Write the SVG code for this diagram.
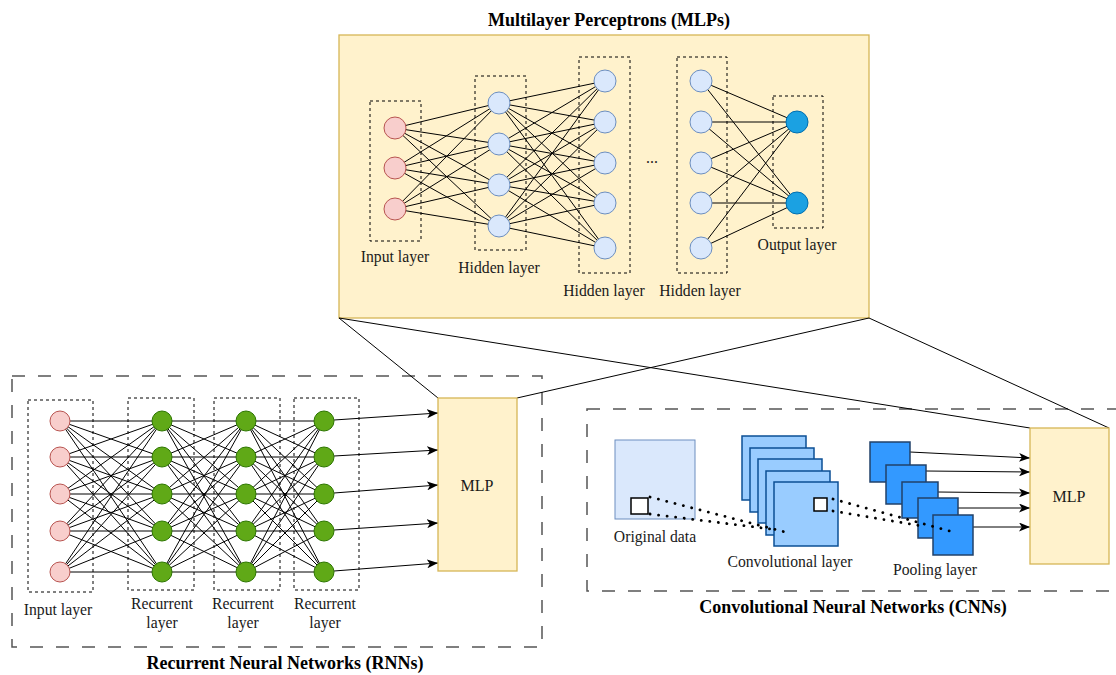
<svg xmlns="http://www.w3.org/2000/svg" width="1116" height="675" viewBox="0 0 1116 675" font-family="Liberation Serif, serif">
<style>
text{font-family:"Liberation Serif",serif;fill:#1a1a1a}
.lbl{font-size:15.7px;text-anchor:middle}
.ttl{font-size:18px;font-weight:bold;text-anchor:middle;fill:#000}
.mlpt{font-size:16px;text-anchor:middle}
.panel{fill:#fff2cc;stroke:#d6b656;stroke-width:1.3}
.group{fill:none;stroke:#555;stroke-width:1.5;stroke-dasharray:13 13}
.box{fill:none;stroke:#000;stroke-width:1;stroke-dasharray:3 3}
.in{fill:#f8cecc;stroke:#b85450;stroke-width:1}
.hid{fill:#dae8fc;stroke:#6c8ebf;stroke-width:1}
.out{fill:#1ba1e2;stroke:#006eaf;stroke-width:1}
.rec{fill:#60a917;stroke:#2d7600;stroke-width:1}
.edge{fill:none;stroke:#000;stroke-width:1}
.arrow{fill:none;stroke:#000;stroke-width:1;marker-end:url(#arr)}
.dot{fill:none;stroke:#000;stroke-width:2.8;stroke-dasharray:0.1 8.5;stroke-linecap:round}
.conv{fill:#99ccff;stroke:#0b4f95;stroke-width:1.5}
.pool{fill:#3399ff;stroke:#22426a;stroke-width:1.5}
</style>
<defs>
<marker id="arr" markerWidth="11" markerHeight="9" refX="11" refY="4.5" orient="auto" markerUnits="userSpaceOnUse">
<path d="M0,0 L11,4.5 L0,9 L2.8,4.5 z" fill="#000"/>
</marker>
</defs>

<g id="titles">
<text class="ttl" x="609" y="26">Multilayer Perceptrons (MLPs)</text>
<text class="ttl" x="285" y="669">Recurrent Neural Networks (RNNs)</text>
<text class="ttl" x="853" y="613">Convolutional Neural Networks (CNNs)</text>
</g>

<g id="mlp-panel">
<rect class="panel" x="339" y="35" width="530" height="283"/>
</g>
<g id="rnn-panel">
<rect class="group" x="12" y="376" width="530" height="271"/>
</g>
<g id="cnn-panel">
<rect class="group" x="587" y="409" width="560" height="182"/>
</g>

<g id="connectors">
<path class="edge" d="M339 318L438 398M339 318L1030 428M869 318L517 398M869 318L1109 428"/>
<path class="edge" d="M395 128L499 103M395 128L499 144M395 128L499 185M395 128L499 226M395 168L499 103M395 168L499 144M395 168L499 185M395 168L499 226M395 209L499 103M395 209L499 144M395 209L499 185M395 209L499 226"/>
<path class="edge" d="M499 103L605 81M499 103L605 122M499 103L605 163M499 103L605 203M499 103L605 248M499 144L605 81M499 144L605 122M499 144L605 163M499 144L605 203M499 144L605 248M499 185L605 81M499 185L605 122M499 185L605 163M499 185L605 203M499 185L605 248M499 226L605 81M499 226L605 122M499 226L605 163M499 226L605 203M499 226L605 248"/>
<path class="edge" d="M701 81L797 122M701 81L797 203M701 122L797 122M701 122L797 203M701 163L797 122M701 163L797 203M701 203L797 122M701 203L797 203M701 248L797 122M701 248L797 203"/>
<path class="edge" d="M60 421L162 421M60 421L162 457M60 421L162 494M60 421L162 531M60 421L162 572M60 457L162 421M60 457L162 457M60 457L162 494M60 457L162 531M60 457L162 572M60 494L162 421M60 494L162 457M60 494L162 494M60 494L162 531M60 494L162 572M60 531L162 421M60 531L162 457M60 531L162 494M60 531L162 531M60 531L162 572M60 572L162 421M60 572L162 457M60 572L162 494M60 572L162 531M60 572L162 572"/>
<path class="edge" d="M162 421L246 421M162 421L246 457M162 421L246 494M162 421L246 531M162 421L246 572M162 457L246 421M162 457L246 457M162 457L246 494M162 457L246 531M162 457L246 572M162 494L246 421M162 494L246 457M162 494L246 494M162 494L246 531M162 494L246 572M162 531L246 421M162 531L246 457M162 531L246 494M162 531L246 531M162 531L246 572M162 572L246 421M162 572L246 457M162 572L246 494M162 572L246 531M162 572L246 572"/>
<path class="edge" d="M246 421L324 421M246 421L324 457M246 421L324 494M246 421L324 531M246 421L324 572M246 457L324 421M246 457L324 457M246 457L324 494M246 457L324 531M246 457L324 572M246 494L324 421M246 494L324 457M246 494L324 494M246 494L324 531M246 494L324 572M246 531L324 421M246 531L324 457M246 531L324 494M246 531L324 531M246 531L324 572M246 572L324 421M246 572L324 457M246 572L324 494M246 572L324 531M246 572L324 572"/>
<path class="arrow" d="M334 420L438 413"/>
<path class="arrow" d="M334 456L438 450"/>
<path class="arrow" d="M334 493L438 485"/>
<path class="arrow" d="M334 530L438 523"/>
<path class="arrow" d="M334 571L438 563"/>
<path class="arrow" d="M910 452L1030 458"/>
<path class="arrow" d="M926 471L1030 472"/>
<path class="arrow" d="M938 492L1030 493"/>
<path class="arrow" d="M958 508L1030 508"/>
<path class="arrow" d="M973 527L1030 527"/>
</g>

<g id="mlp-input-layer">
<rect class="box" x="370" y="101" width="51" height="140"/>
<circle class="in" cx="395" cy="128" r="11"/>
<circle class="in" cx="395" cy="168" r="11"/>
<circle class="in" cx="395" cy="209" r="11"/>
<text class="lbl" x="395" y="262">Input layer</text>
</g>
<g id="mlp-hidden-layer-1">
<rect class="box" x="475" y="76" width="51" height="174"/>
<circle class="hid" cx="499" cy="103" r="11"/>
<circle class="hid" cx="499" cy="144" r="11"/>
<circle class="hid" cx="499" cy="185" r="11"/>
<circle class="hid" cx="499" cy="226" r="11"/>
<text class="lbl" x="499" y="273">Hidden layer</text>
</g>
<g id="mlp-hidden-layer-2">
<rect class="box" x="579" y="57" width="51" height="216"/>
<circle class="hid" cx="605" cy="81" r="11"/>
<circle class="hid" cx="605" cy="122" r="11"/>
<circle class="hid" cx="605" cy="163" r="11"/>
<circle class="hid" cx="605" cy="203" r="11"/>
<circle class="hid" cx="605" cy="248" r="11"/>
<text class="lbl" x="604" y="296">Hidden layer</text>
</g>
<g id="mlp-ellipsis">
<text class="lbl" x="652" y="163">...</text>
</g>
<g id="mlp-hidden-layer-3">
<rect class="box" x="677" y="57" width="50" height="216"/>
<circle class="hid" cx="701" cy="81" r="11"/>
<circle class="hid" cx="701" cy="122" r="11"/>
<circle class="hid" cx="701" cy="163" r="11"/>
<circle class="hid" cx="701" cy="203" r="11"/>
<circle class="hid" cx="701" cy="248" r="11"/>
<text class="lbl" x="700" y="296">Hidden layer</text>
</g>
<g id="mlp-output-layer">
<rect class="box" x="773" y="96" width="50" height="132"/>
<circle class="out" cx="797" cy="122" r="11"/>
<circle class="out" cx="797" cy="203" r="11"/>
<text class="lbl" x="797" y="250">Output layer</text>
</g>

<g id="rnn-input-layer">
<rect class="box" x="28" y="400" width="65" height="192"/>
<circle class="in" cx="60" cy="421" r="10"/>
<circle class="in" cx="60" cy="457" r="10"/>
<circle class="in" cx="60" cy="494" r="10"/>
<circle class="in" cx="60" cy="531" r="10"/>
<circle class="in" cx="60" cy="572" r="10"/>
<text class="lbl" x="58" y="615">Input layer</text>
</g>
<g id="rnn-recurrent-layer-1">
<rect class="box" x="128" y="398" width="66" height="192"/>
<circle class="rec" cx="162" cy="421" r="10"/>
<circle class="rec" cx="162" cy="457" r="10"/>
<circle class="rec" cx="162" cy="494" r="10"/>
<circle class="rec" cx="162" cy="531" r="10"/>
<circle class="rec" cx="162" cy="572" r="10"/>
<text class="lbl" x="162" y="609">Recurrent</text>
<text class="lbl" x="162" y="628">layer</text>
</g>
<g id="rnn-recurrent-layer-2">
<rect class="box" x="214" y="398" width="66" height="192"/>
<circle class="rec" cx="246" cy="421" r="10"/>
<circle class="rec" cx="246" cy="457" r="10"/>
<circle class="rec" cx="246" cy="494" r="10"/>
<circle class="rec" cx="246" cy="531" r="10"/>
<circle class="rec" cx="246" cy="572" r="10"/>
<text class="lbl" x="243" y="609">Recurrent</text>
<text class="lbl" x="243" y="628">layer</text>
</g>
<g id="rnn-recurrent-layer-3">
<rect class="box" x="294" y="398" width="65" height="192"/>
<circle class="rec" cx="324" cy="421" r="10"/>
<circle class="rec" cx="324" cy="457" r="10"/>
<circle class="rec" cx="324" cy="494" r="10"/>
<circle class="rec" cx="324" cy="531" r="10"/>
<circle class="rec" cx="324" cy="572" r="10"/>
<text class="lbl" x="325" y="609">Recurrent</text>
<text class="lbl" x="325" y="628">layer</text>
</g>
<g id="rnn-mlp">
<rect class="panel" x="438" y="398" width="79" height="173"/>
<text class="mlpt" x="477" y="491">MLP</text>
</g>

<g id="cnn-original-data">
<rect x="615" y="440" width="80" height="79" fill="#dae8fc" stroke="#6c8ebf" stroke-width="1"/>
<rect x="631" y="498" width="17" height="16" fill="#fff" stroke="#000" stroke-width="1.5"/>
<text class="lbl" x="655" y="542">Original data</text>
</g>
<g id="cnn-convolutional-layer">
<rect class="conv" x="742" y="436" width="64" height="64"/>
<rect class="conv" x="750" y="448" width="64" height="64"/>
<rect class="conv" x="758" y="459" width="64" height="64"/>
<rect class="conv" x="766" y="471" width="64" height="64"/>
<rect class="conv" x="774" y="482" width="64" height="64"/>
<rect x="814" y="498" width="13" height="13" fill="#fff" stroke="#000" stroke-width="1.5"/>
<text class="lbl" x="790" y="567">Convolutional layer</text>
</g>
<g id="cnn-pooling-layer">
<rect class="pool" x="870" y="442" width="40" height="40"/>
<rect class="pool" x="886" y="465" width="40" height="39"/>
<rect class="pool" x="902" y="482" width="36" height="36"/>
<rect class="pool" x="918" y="498" width="40" height="40"/>
<rect class="pool" x="933" y="515" width="40" height="40"/>
<text class="lbl" x="935" y="575">Pooling layer</text>
</g>
<g id="cnn-mlp">
<rect class="panel" x="1030" y="428" width="79" height="136"/>
<text class="mlpt" x="1069" y="502">MLP</text>
</g>

<g id="dotted-lines">
<path class="dot" d="M650 497L789 533"/>
<path class="dot" d="M650 514L771 529"/>
<path class="dot" d="M833 499L957 533"/>
<path class="dot" d="M833 511L922 526"/>
</g>
</svg>
